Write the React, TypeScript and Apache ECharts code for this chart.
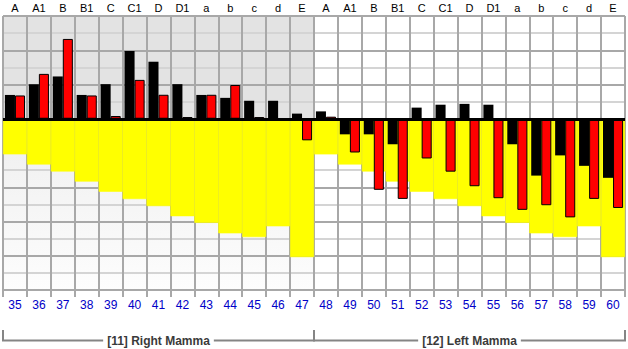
import React, { useEffect, useRef } from 'react';
import * as echarts from 'echarts';

const categories = ['35', '36', '37', '38', '39', '40', '41', '42', '43', '44', '45', '46', '47',
  '48', '49', '50', '51', '52', '53', '54', '55', '56', '57', '58', '59', '60'];
const topLabels = ['A', 'A1', 'B', 'B1', 'C', 'C1', 'D', 'D1', 'a', 'b', 'c', 'd', 'E',
  'A', 'A1', 'B', 'B1', 'C', 'C1', 'D', 'D1', 'a', 'b', 'c', 'd', 'E'];
const blackValues = [13.9, 20.2, 24.7, 13.9, 20.2, 39.6, 33.3, 20.2, 13.9, 12.2, 10.5, 10.5, 3.0,
  4.3, -9.1, -9.1, -14.9, 6.5, 8.2, 8.7, 8.2, -14.9, -33.2, -21.4, -27.5, -34.5];
const redValues = [13.6, 26.2, 46.6, 13.6, 1.6, 22.7, 14.0, 1.0, 14.0, 19.7, 1.0, 0, -12.6,
  1.2, -19.7, -41.5, -46.8, -23.2, -30.9, -39.4, -46.4, -53.2, -50.5, -57.6, -46.8, -52.1];
const yellowValues = [-20.8, -26.7, -30.8, -36.7, -42.6, -46.9, -51.0, -56.9, -60.8, -66.9, -69.1, -62.8, -80.8,
  -20.8, -26.7, -30.8, -36.7, -42.6, -46.9, -51.0, -56.9, -60.8, -66.9, -69.1, -62.8, -80.8];
const groups = [
  { label: '[11] Right Mamma', from: 0, to: 12 },
  { label: '[12] Left Mamma', from: 13, to: 25 },
];
const shadedCount = 13;

const Y_MIN = -100;
const Y_MAX = 60;
const W = 628;
const H = 349;
const GRID_LEFT = 3;
const GRID_RIGHT = 3;
const GRID_TOP = 16;
const GRID_BOTTOM = 59;

export default function App() {
  const ref = useRef<HTMLDivElement>(null);

  useEffect(() => {
    if (!ref.current) return;
    const chart = echarts.init(ref.current, null, { renderer: 'svg', width: W, height: H });

    const gridW = W - GRID_LEFT - GRID_RIGHT;
    const colW = gridW / categories.length;
    const bracketTop = 330;
    const bracketY = 340.5;

    const graphics: any[] = [];
    groups.forEach((g) => {
      const x0 = GRID_LEFT + g.from * colW;
      const x1 = GRID_LEFT + (g.to + 1) * colW;
      graphics.push({
        type: 'polyline',
        silent: true,
        shape: { points: [[x0, bracketTop], [x0, bracketY], [x1, bracketY], [x1, bracketTop]] },
        style: { stroke: '#858585', lineWidth: 2, fill: null },
      });
      graphics.push({
        type: 'text',
        silent: true,
        x: (x0 + x1) / 2,
        y: bracketY,
        style: {
          text: g.label,
          align: 'center',
          verticalAlign: 'middle',
          font: 'bold 12px "Liberation Sans", Arial, sans-serif',
          fill: '#3a3a3a',
          backgroundColor: '#ffffff',
          padding: [1, 4],
        },
      });
    });

    const bgUpper = categories.map((_, i) => (i < shadedCount ? Y_MAX : '-'));
    const bgLower = categories.map((_, i) => (i < shadedCount ? Y_MIN : '-'));

    const hiddenX = { type: 'category', data: categories, show: false, gridIndex: 0 };

    chart.setOption({
      animation: false,
      backgroundColor: '#ffffff',
      grid: { left: GRID_LEFT, right: GRID_RIGHT, top: GRID_TOP, bottom: GRID_BOTTOM, containLabel: false },
      xAxis: [
        {
          type: 'category',
          data: categories,
          position: 'bottom',
          boundaryGap: true,
          axisLine: { show: true, onZero: false, lineStyle: { color: '#a8a8a8', width: 2 } },
          axisTick: { show: true, interval: 0, length: 7, lineStyle: { color: '#a8a8a8', width: 2 } },
          axisLabel: {
            interval: 0,
            margin: 9,
            color: '#0000c8',
            fontSize: 12,
            fontFamily: '"Liberation Sans", Arial, sans-serif',
          },
          splitLine: { show: true, interval: 0, lineStyle: { color: '#a8a8a8', width: 2 } },
        },
        {
          type: 'category',
          data: categories,
          position: 'top',
          boundaryGap: true,
          axisLine: { show: false, onZero: false },
          axisTick: { show: false },
          axisLabel: {
            interval: 0,
            margin: 3,
            color: '#000000',
            fontSize: 11,
            fontFamily: '"Liberation Sans", Arial, sans-serif',
            formatter: (_v: string, i: number) => topLabels[i],
          },
          splitLine: { show: false },
        },
        hiddenX,
        hiddenX,
      ],
      yAxis: [
        {
          type: 'value',
          min: Y_MIN,
          max: Y_MAX,
          interval: 20,
          axisLine: { show: false },
          axisTick: { show: false },
          axisLabel: { show: false },
          splitLine: { show: true, lineStyle: { color: '#a8a8a8', width: 2 } },
        },
        {
          type: 'value',
          min: Y_MIN,
          max: Y_MAX,
          interval: 10,
          axisLine: { show: false },
          axisTick: { show: false },
          axisLabel: { show: false },
          splitLine: { show: true, lineStyle: { color: ['rgba(0,0,0,0)', '#d4d4d4'], width: 2 } },
        },
      ],
      series: [
        {
          name: 'bgUpper',
          type: 'bar',
          xAxisIndex: 3,
          yAxisIndex: 0,
          stack: 'bg',
          z: -1,
          silent: true,
          barCategoryGap: '0%',
          itemStyle: { color: '#e3e3e3' },
          data: bgUpper,
        },
        {
          name: 'bgLower',
          type: 'bar',
          xAxisIndex: 3,
          yAxisIndex: 0,
          stack: 'bg',
          z: -1,
          silent: true,
          barCategoryGap: '0%',
          itemStyle: {
            color: new echarts.graphic.LinearGradient(0, 0, 0, 1, [
              { offset: 0, color: '#eeeeee' },
              { offset: 1, color: '#fdfdfd' },
            ]),
          },
          data: bgLower,
        },
        {
          name: 'range',
          type: 'bar',
          xAxisIndex: 2,
          yAxisIndex: 0,
          silent: true,
          barCategoryGap: '0%',
          itemStyle: { color: '#ffff00', borderColor: '#ffff00', borderWidth: 0.6 },
          data: yellowValues,
        },
        {
          name: 'black',
          type: 'bar',
          xAxisIndex: 0,
          yAxisIndex: 0,
          silent: true,
          barGap: '0%',
          barCategoryGap: '16%',
          itemStyle: { color: '#000000' },
          data: blackValues,
        },
        {
          name: 'red',
          type: 'bar',
          xAxisIndex: 0,
          yAxisIndex: 0,
          silent: true,
          barGap: '0%',
          barCategoryGap: '16%',
          itemStyle: { color: '#ff0000', borderColor: '#000000', borderWidth: 1 },
          data: redValues,
          markLine: {
            silent: true,
            symbol: ['none', 'none'],
            label: { show: false },
            lineStyle: { color: '#000000', width: 3, type: 'solid' },
            data: [{ yAxis: 0 }],
          },
        },
      ],
      graphic: graphics,
    });

    return () => chart.dispose();
  }, []);

  return (
    <div
      ref={ref}
      style={{ position: 'fixed', left: 0, top: 0, width: W, height: H, background: '#fff' }}
    />
  );
}
